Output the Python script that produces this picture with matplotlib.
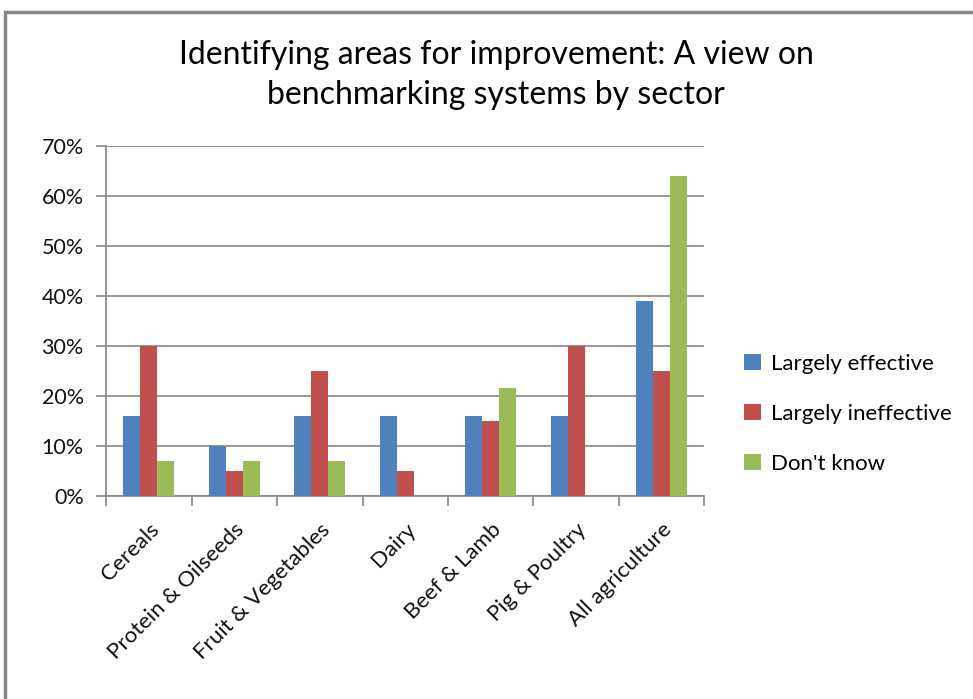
import matplotlib
matplotlib.use("Agg")
import matplotlib.pyplot as plt
import numpy as np
from matplotlib.patches import Rectangle
from matplotlib.ticker import FuncFormatter, FixedLocator

sectors = ["Cereals", "Protein & Oilseeds", "Fruit & Vegetables", "Dairy",
           "Beef & Lamb", "Pig & Poultry", "All agriculture"]
effective   = [16, 10, 16, 16, 16, 16, 39]
ineffective = [30, 5, 25, 5, 15, 30, 25]
dont_know   = [7, 7, 7, 0, 21.6, 0, 64]
series_names  = ["Largely effective", "Largely ineffective", "Don't know"]
series_colors = ["#4F81BD", "#C0504D", "#9BBB59"]

plt.rcParams["font.family"] = ["Lato", "DejaVu Sans"]

fig = plt.figure(figsize=(9.73, 6.99), dpi=100)
ax = fig.add_axes([0.109, 0.2904, 0.615, 0.5007])

x = np.arange(len(sectors))
w = 0.2
for i, (vals, name, col) in enumerate(zip([effective, ineffective, dont_know],
                                          series_names, series_colors)):
    ax.bar(x + (i - 1) * w, vals, w, color=col, label=name, zorder=3)

ax.set_xlim(-0.5, len(sectors) - 0.5)
ax.set_ylim(0, 70)
ax.set_yticks(np.arange(0, 71, 10))
ax.yaxis.set_major_formatter(FuncFormatter(lambda v, p: f"{v:.0f}%"))
ax.grid(axis="y", color="#868686", linewidth=1.2, zorder=0)

# category labels centred, tick marks on the boundaries
ax.set_xticks(x)
ax.set_xticklabels(sectors, rotation=45, ha="right", rotation_mode="anchor",
                   fontsize=16, color="#111111")
ax.tick_params(axis="x", which="major", length=0, pad=17)
ax.xaxis.set_minor_locator(FixedLocator(np.arange(-0.5, len(sectors), 1)))
ax.tick_params(axis="x", which="minor", length=7, color="#868686", width=1.2)
ax.tick_params(axis="y", length=7, color="#868686", width=1.2,
               labelsize=15.5, labelcolor="#111111", pad=9)

for s in ["top", "right"]:
    ax.spines[s].set_visible(False)
for s in ["left", "bottom"]:
    ax.spines[s].set_color("#868686")
    ax.spines[s].set_linewidth(1.2)

fig.text(0.51, 0.893, "Identifying areas for improvement: A view on\nbenchmarking systems by sector",
         ha="center", va="center", fontsize=23, linespacing=1.4, color="#000000")

leg = fig.legend(loc="center left", bbox_to_anchor=(0.765, 0.408), frameon=False,
                 fontsize=16, handlelength=0.75, handleheight=0.75, handletextpad=0.45,
                 labelspacing=1.35, borderaxespad=0, borderpad=0)

# outer chart border
fig.patches.append(Rectangle((5 / 973, -0.1), 1.2, 1.1 - 12 / 699,
                             transform=fig.transFigure, fill=False,
                             edgecolor="#868686", linewidth=2.5))

fig.savefig("out.png", dpi=100)
